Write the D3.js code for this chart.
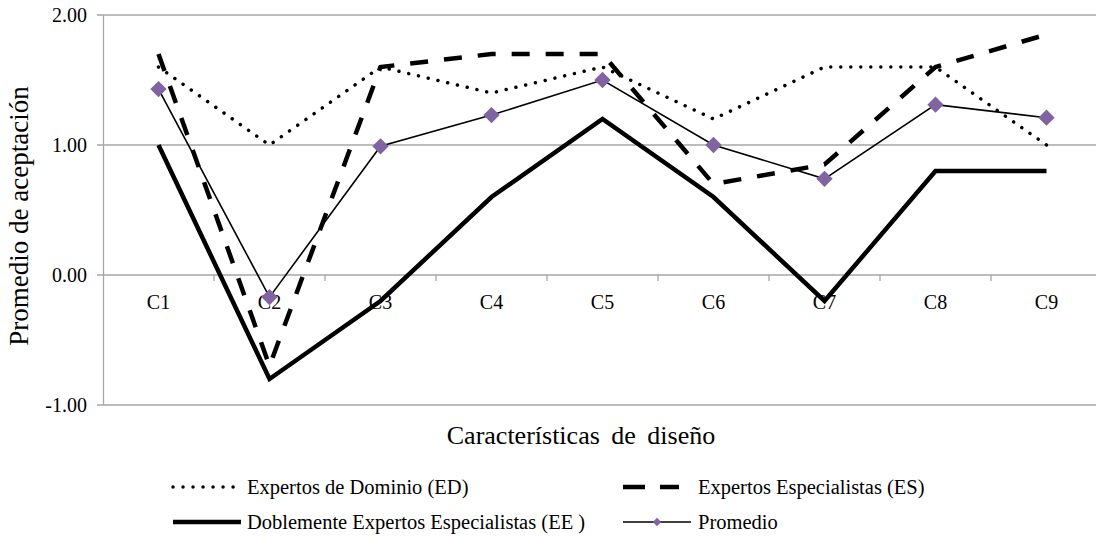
<!DOCTYPE html>
<html>
<head>
<meta charset="utf-8">
<script src="https://cdn.jsdelivr.net/npm/d3@7"></script>
<style>
body { margin: 0; background: #fff; }
</style>
</head>
<body>
<svg id="chart"></svg>
<script>
// Data
var categories = ['C1', 'C2', 'C3', 'C4', 'C5', 'C6', 'C7', 'C8', 'C9'];
var dominio = [1.6, 1.0, 1.6, 1.4, 1.6, 1.2, 1.6, 1.6, 1.0];
var especialistas = [1.7, -0.7, 1.6, 1.7, 1.7, 0.7, 0.85, 1.6, 1.85];
var doblemente = [1.0, -0.8, -0.2, 0.6, 1.2, 0.6, -0.2, 0.8, 0.8];
var promedio = [1.43, -0.17, 0.99, 1.23, 1.5, 1.0, 0.74, 1.31, 1.21];
var yTicks = [-1, 0, 1, 2];

var vWidth = 1096, vHeight = 536;
var serif = "'Liberation Serif', 'Times New Roman', 'DejaVu Serif', serif";
var svg = d3.select('#chart').attr('width', vWidth).attr('height', vHeight)
    .attr('font-family', serif);

// Plot area (right edge runs slightly past the picture, as in the original)
var x = d3.scaleBand().domain(categories).range([103, 1102]);
var y = d3.scaleLinear().domain([-1, 2]).range([405, 15]);

// Gridlines
svg.append('g').selectAll('line')
    .data(yTicks)
    .enter().append('line')
    .attr('x1', 97).attr('x2', vWidth)
    .attr('y1', function (d) { return y(d); })
    .attr('y2', function (d) { return y(d); })
    .style('stroke', '#a6a6a6').style('stroke-width', 1.3);

// Y axis line
svg.append('line')
    .attr('x1', 103.5).attr('x2', 103.5)
    .attr('y1', y(2)).attr('y2', y(-1))
    .style('stroke', '#a6a6a6').style('stroke-width', 1.3);

// Y tick labels
svg.append('g').selectAll('text')
    .data(yTicks)
    .enter().append('text')
    .attr('x', 87).attr('y', function (d) { return y(d); })
    .attr('dy', '0.35em')
    .attr('text-anchor', 'end')
    .attr('font-family', serif)
    .style('font-size', '20px')
    .text(function (d) { return d.toFixed(2); });

// X tick marks at band boundaries on the zero line
var bounds = categories.slice(1).map(function (c) { return x(c); });
svg.append('g').selectAll('line')
    .data(bounds)
    .enter().append('line')
    .attr('x1', function (d) { return d; }).attr('x2', function (d) { return d; })
    .attr('y1', y(0)).attr('y2', y(0) + 6)
    .style('stroke', '#a6a6a6').style('stroke-width', 1.3);

// X labels
svg.append('g').selectAll('text')
    .data(categories)
    .enter().append('text')
    .attr('x', function (d) { return x(d) + x.bandwidth() / 2; })
    .attr('y', y(0) + 34)
    .attr('text-anchor', 'middle')
    .attr('font-family', serif)
    .style('font-size', '20px')
    .text(function (d) { return d; });

// Axis titles
svg.append('text')
    .attr('transform', 'translate(28,216)rotate(-90)')
    .attr('text-anchor', 'middle')
    .attr('font-family', serif)
    .style('font-size', '27px')
    .text('Promedio de aceptación');

svg.append('text')
    .attr('x', 581).attr('y', 444)
    .attr('text-anchor', 'middle')
    .attr('font-family', serif)
    .style('font-size', '26px')
    .style('word-spacing', '5px')
    .text('Características de diseño');

// Series
var line = d3.line()
    .x(function (d, i) { return x(categories[i]) + x.bandwidth() / 2; })
    .y(function (d) { return y(d); });

var series = [
    { name: 'Expertos de Dominio (ED)', values: dominio, width: 3.5, dash: '0.01 10', cap: 'round' },
    { name: 'Expertos Especialistas (ES)', values: especialistas, width: 4.5, dash: '18 16', cap: 'butt' },
    { name: 'Doblemente Expertos Especialistas (EE )', values: doblemente, width: 4.5, dash: null, cap: 'butt' },
    { name: 'Promedio', values: promedio, width: 1.6, dash: null, cap: 'butt' }
];

series.forEach(function (s) {
    svg.append('path')
        .datum(s.values)
        .attr('d', line)
        .style('fill', 'none')
        .style('stroke', '#000')
        .style('stroke-width', s.width)
        .style('stroke-linecap', s.cap)
        .style('stroke-linejoin', 'miter')
        .style('stroke-dasharray', s.dash);
});

// Diamonds for Promedio
var diamond = d3.symbol().type(d3.symbolDiamond2).size(170);
svg.append('g').selectAll('path')
    .data(promedio)
    .enter().append('path')
    .attr('transform', function (d, i) {
        return 'translate(' + (x(categories[i]) + x.bandwidth() / 2) + ',' + y(d) + ')';
    })
    .attr('d', diamond)
    .style('fill', '#8064a2');

// Legend
var legendPos = [
    { x: 173, y: 487, len: 66 },
    { x: 623, y: 487, len: 56 },
    { x: 173, y: 522, len: 68 },
    { x: 623, y: 522, len: 68 }
];
series.forEach(function (s, i) {
    var p = legendPos[i];
    var gl = svg.append('g');
    gl.append('line')
        .attr('x1', p.x).attr('x2', p.x + p.len)
        .attr('y1', p.y).attr('y2', p.y)
        .style('stroke', '#000')
        .style('stroke-width', s.width)
        .style('stroke-linecap', s.cap)
        .style('stroke-dasharray', s.name.indexOf('ES') > -1 ? '22 15' : s.dash);
    if (s.name === 'Promedio') {
        gl.append('path')
            .attr('transform', 'translate(' + (p.x + p.len / 2) + ',' + p.y + ')')
            .attr('d', d3.symbol().type(d3.symbolDiamond2).size(45))
            .style('fill', '#8064a2');
    }
    gl.append('text')
        .attr('x', i % 2 === 0 ? 247 : 698)
        .attr('y', p.y).attr('dy', '0.35em')
        .attr('font-family', serif)
        .style('font-size', '20.5px')
        .text(s.name);
});
</script>
</body>
</html>
